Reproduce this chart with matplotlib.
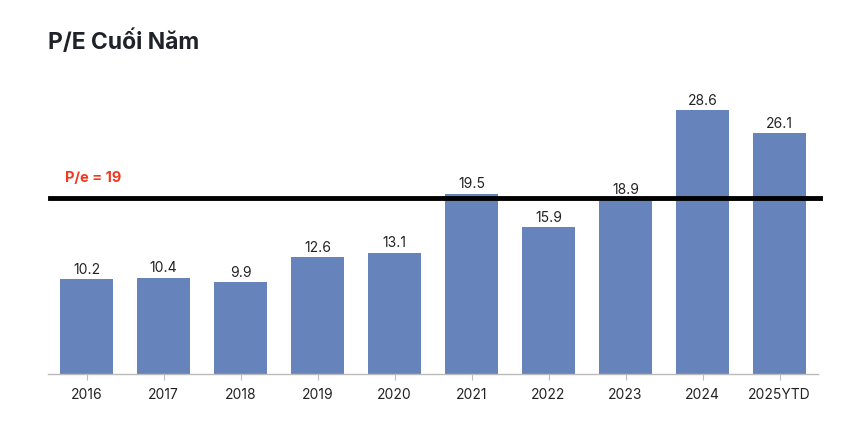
import matplotlib
matplotlib.use("Agg")
import matplotlib.pyplot as plt

categories = ["2016", "2017", "2018", "2019", "2020", "2021", "2022", "2023", "2024", "2025YTD"]
pe_values = [10.2, 10.4, 9.9, 12.6, 13.1, 19.5, 15.9, 18.9, 28.6, 26.1]
ref_level = 19
ref_label = "P/e = 19"
title = "P/E Cuối Năm"

plt.rcParams['font.family'] = ['Inter', 'DejaVu Sans']

fig = plt.figure(figsize=(8.51, 4.27), dpi=100)
ax = fig.add_axes([48/851, 1 - 374.5/427, 770/851, (374.5 - 96)/427])

x = list(range(len(categories)))
ax.bar(x, pe_values, width=0.69, color="#6783bb", zorder=2)
for xi, v in zip(x, pe_values):
    ax.text(xi, v + 0.35, f"{v}", ha="center", va="bottom", fontsize=10, color="#222222")

ax.set_xlim(-0.5, len(categories) - 0.5)
ax.set_ylim(0, 30.2)
ax.set_xticks(x)
ax.set_xticklabels(categories, fontsize=10, color="#222222")
ax.tick_params(axis="x", length=4, color="#bbbbbb", pad=6)
ax.set_yticks([])
for s in ["top", "right", "left"]:
    ax.spines[s].set_visible(False)
ax.spines["bottom"].set_color("#bbbbbb")
ax.spines["bottom"].set_linewidth(1)

ax.axhline(ref_level, xmin=0.003, xmax=1.003, color="black", linewidth=3.5, zorder=3, clip_on=False)
ax.text(0.0225, ref_level + 1.5, ref_label, transform=ax.get_yaxis_transform(),
        color="#f0391e", fontsize=10.5, fontweight="bold", ha="left", va="bottom")

fig.text(48/851, 1 - 42/427, title, fontsize=16.5, fontweight="bold", color="#1f2329",
         ha="left", va="center")

fig.savefig("out.png", dpi=100, facecolor="white")
